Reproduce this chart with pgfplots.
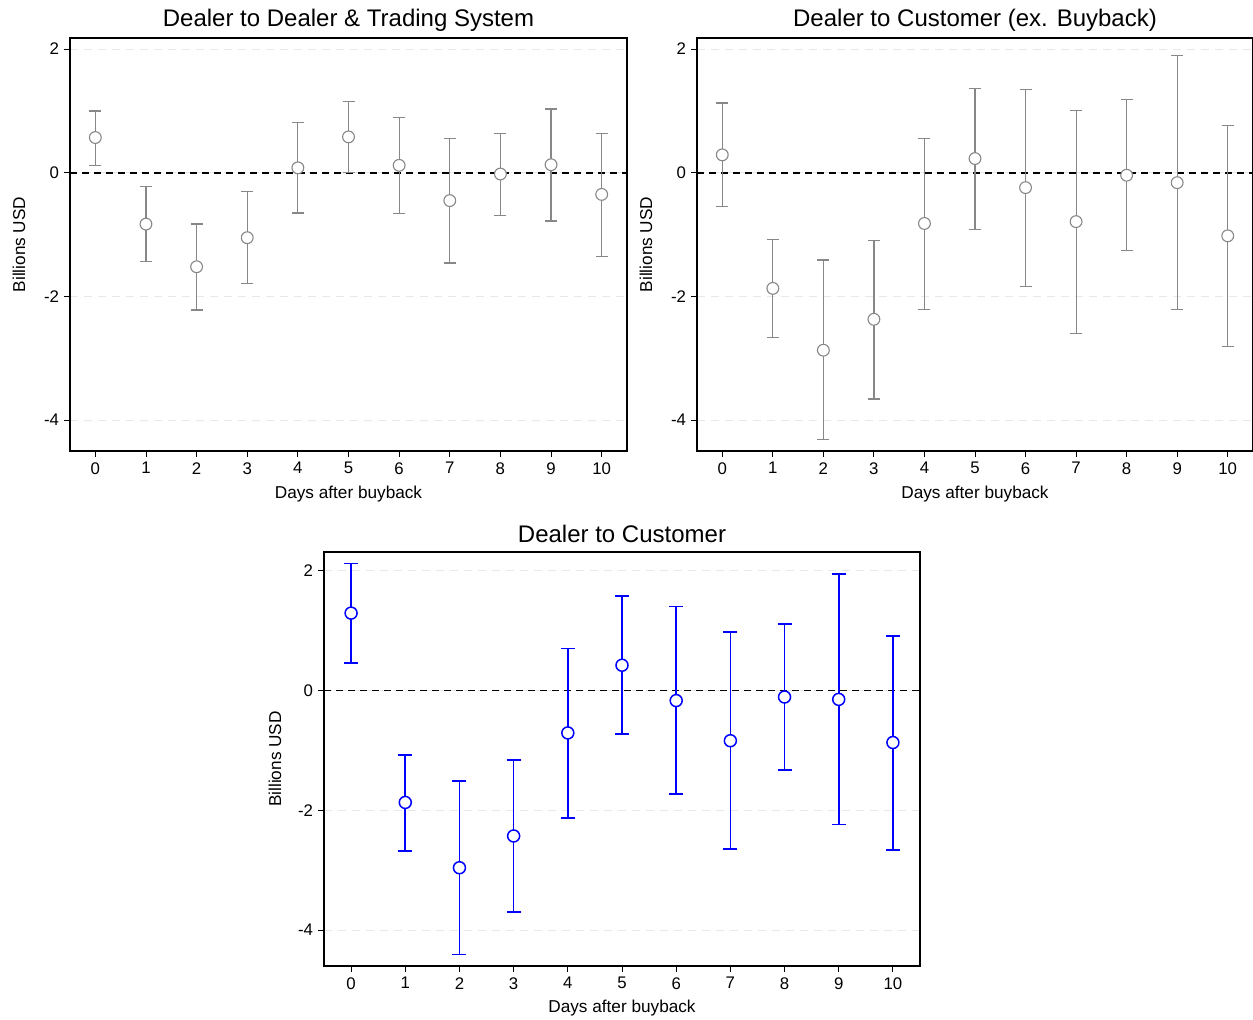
\documentclass[border=0pt]{standalone}
\usepackage{fontspec}
\setmainfont{Liberation Sans}
\usepackage{pgfplots}
\usepackage{pgfplotstable}
\pgfplotsset{compat=1.18}
\definecolor{eb}{RGB}{135,135,135}
\definecolor{gridc}{RGB}{232,232,232}
\definecolor{bl}{RGB}{0,0,255}

\pgfplotstableread{
x y lo hi
0 0.57 0.12 1.00
1 -0.83 -1.44 -0.22
2 -1.52 -2.22 -0.83
3 -1.05 -1.79 -0.30
4 0.08 -0.65 0.81
5 0.58 0.01 1.15
6 0.12 -0.66 0.90
7 -0.45 -1.46 0.56
8 -0.02 -0.69 0.64
9 0.13 -0.78 1.03
10 -0.35 -1.35 0.64
}\dataA

\pgfplotstableread{
x y lo hi
0 0.29 -0.55 1.13
1 -1.87 -2.67 -1.08
2 -2.87 -4.32 -1.41
3 -2.37 -3.66 -1.09
4 -0.82 -2.21 0.56
5 0.23 -0.92 1.36
6 -0.24 -1.84 1.35
7 -0.79 -2.60 1.01
8 -0.04 -1.26 1.18
9 -0.16 -2.21 1.90
10 -1.02 -2.81 0.77
}\dataB

\pgfplotstableread{
x y lo hi
0 1.29 0.46 2.12
1 -1.87 -2.68 -1.08
2 -2.96 -4.41 -1.51
3 -2.43 -3.70 -1.16
4 -0.71 -2.13 0.70
5 0.42 -0.73 1.57
6 -0.17 -1.73 1.40
7 -0.84 -2.65 0.97
8 -0.11 -1.33 1.11
9 -0.15 -2.24 1.94
10 -0.87 -2.66 0.91
}\dataC

\pgfplotsset{
  panel/.style={
    scale only axis,
    anchor=north west,
    xmin=-0.5, xmax=10.5,
    xtick={0,...,10},
    ytick={-4,-2,0,2},
    tick align=outside,
    xtick pos=bottom, ytick pos=left,
    major tick length=3pt,
    tick style={black, line width=0.45pt},
    axis line style={black, line width=0.6pt},
    ymajorgrids=true,
    grid style={gridc, dash pattern=on 4pt off 3pt, line width=0.5pt},
    /pgf/number format/assume math mode=true,
    ticklabel style={font=\fontsize{8.4}{10}\selectfont},
    xticklabel style={inner sep=0pt, anchor=north, yshift=-2.5pt},
    yticklabel style={inner sep=0pt, anchor=east, xshift=-2.3pt},
    label style={font=\fontsize{8.6}{10}\selectfont},
    every axis title/.style={at={(axis description cs:0.5,1.0436)}, anchor=center,
      inner sep=0pt, font=\fontsize{12}{14}\selectfont},
    xlabel={Days after buyback},
    ylabel={Billions USD},
    clip=false,
  },
  zero/.style={black, dash pattern=on 3.5pt off 2.5pt, line width=0.8pt, forget plot},
  grayeb/.style={only marks, mark=*, mark size=2.95pt,
    mark options={draw=eb, fill=white, line width=0.55pt},
    error bars/.cd, y dir=both, y explicit,
    error bar style={eb, line width=0.6pt},
    error mark options={eb, line width=0.6pt, mark size=3pt, rotate=90}},
  blueeb/.style={only marks, mark=*, mark size=3pt,
    mark options={draw=bl, fill=white, line width=0.75pt},
    error bars/.cd, y dir=both, y explicit,
    error bar style={bl, line width=0.85pt},
    error mark options={bl, line width=0.85pt, mark size=3.5pt, rotate=90}},
}

\begin{document}
\begin{tikzpicture}
\useasboundingbox (0,0) rectangle (626.5pt,-510pt);

\begin{axis}[panel, at={(35pt,-19pt)}, width=278.5pt, height=206.5pt,
  ymin=-4.5, ymax=2.18,
  title={Dealer to Dealer \& Trading System},
  xlabel style={at={(axis description cs:0.5,-0.104)}, anchor=center},
  ylabel style={at={(axis description cs:-0.0916,0.5)}, anchor=center}]
\addplot[zero] coordinates {(-0.5,0) (10.5,0)};
\addplot[grayeb]
  table[x=x, y=y, y error plus expr=\thisrow{hi}-\thisrow{y}, y error minus expr=\thisrow{y}-\thisrow{lo}] {\dataA};
\end{axis}

\begin{axis}[panel, at={(348.5pt,-19pt)}, width=278pt, height=206.5pt,
  ymin=-4.5, ymax=2.18,
  title={Dealer to Customer (ex. Buyback)},
  xlabel style={at={(axis description cs:0.5,-0.104)}, anchor=center},
  ylabel style={at={(axis description cs:-0.0916,0.5)}, anchor=center}]
\addplot[zero] coordinates {(-0.5,0) (10.5,0)};
\addplot[grayeb]
  table[x=x, y=y, y error plus expr=\thisrow{hi}-\thisrow{y}, y error minus expr=\thisrow{y}-\thisrow{lo}] {\dataB};
\end{axis}

\begin{axis}[panel, at={(162pt,-276pt)}, width=298pt, height=207pt,
  ymin=-4.6, ymax=2.31,
  title={Dealer to Customer},
  xlabel style={at={(axis description cs:0.5,-0.1015)}, anchor=center},
  ylabel style={at={(axis description cs:-0.0822,0.5)}, anchor=center}]
\addplot[zero] coordinates {(-0.5,0) (10.5,0)};
\addplot[blueeb]
  table[x=x, y=y, y error plus expr=\thisrow{hi}-\thisrow{y}, y error minus expr=\thisrow{y}-\thisrow{lo}] {\dataC};
\end{axis}
\end{tikzpicture}
\end{document}
